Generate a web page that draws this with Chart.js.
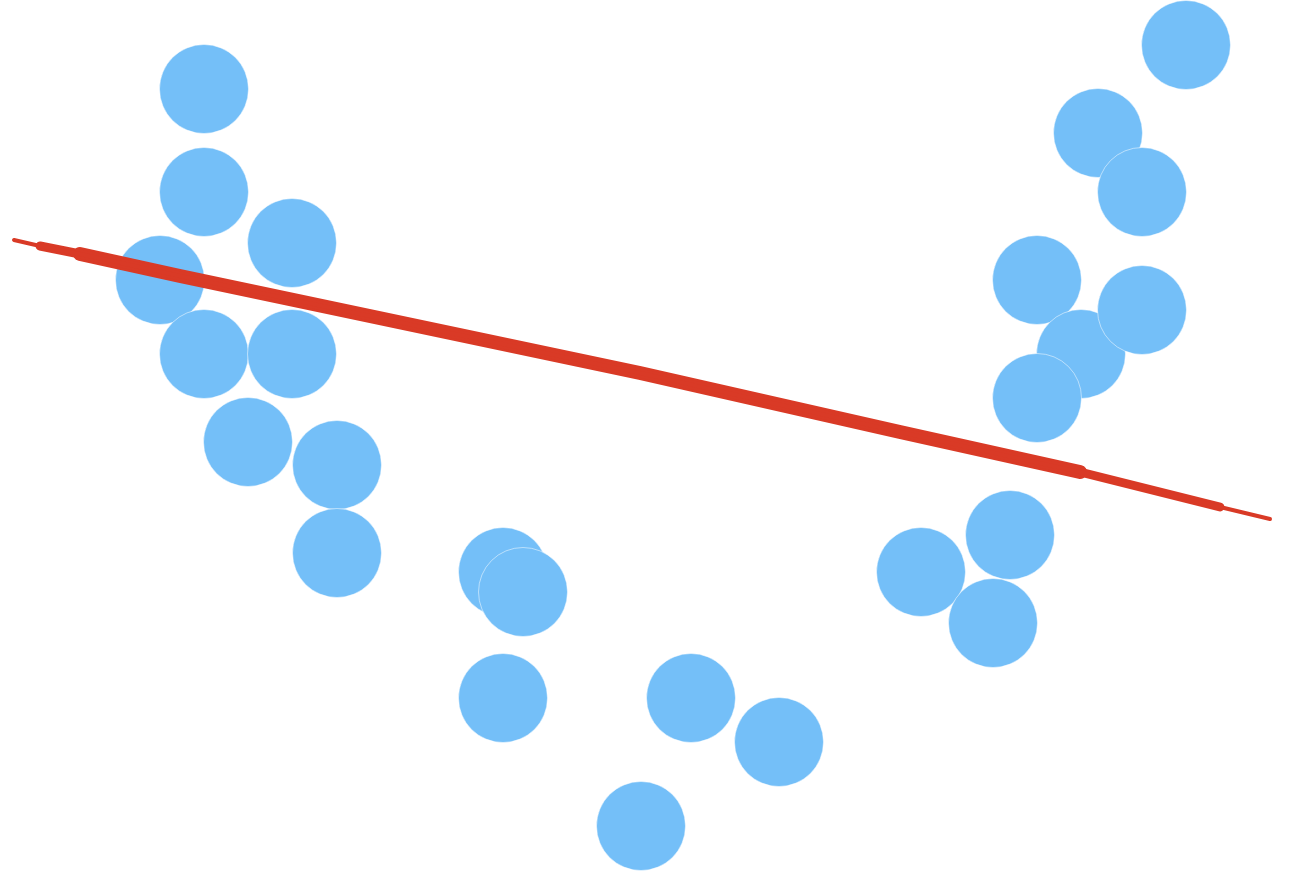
<!DOCTYPE html>
<html>
<head>
<meta charset="utf-8">
<script src="https://cdn.jsdelivr.net/npm/chart.js@4/dist/chart.umd.min.js"></script>
<style>
  html, body { margin: 0; padding: 0; background: #ffffff; }
  #wrap { width: 1294px; height: 872px; }
</style>
</head>
<body>
<div id="wrap"><canvas id="c" width="1294" height="872"></canvas></div>
<script>
const pointX = [2.04, 2.04, 2.92, 1.60, 2.04, 2.92, 2.48, 3.37, 3.37, 5.03, 5.23, 5.03, 6.91, 7.79, 6.41,
                9.21, 10.10, 9.93, 10.37, 10.81, 11.42, 10.37, 10.98, 11.42, 11.86];
const pointY = [7.83, 6.80, 6.29, 5.92, 5.18, 5.18, 4.30, 4.07, 3.19, 3.00, 2.80, 1.74, 1.74, 1.30, 0.46,
                3.00, 3.37, 2.49, 5.92, 5.18, 5.62, 4.74, 7.39, 6.80, 8.27];

// Trend line (read along the stroke)
const trendX = [0.14, 0.40, 0.80, 1.80, 6.40, 9.00, 10.80, 11.60, 12.20, 12.70];
const trendY = [6.32, 6.26, 6.18, 5.96, 4.99, 4.40, 4.00, 3.80, 3.65, 3.53];

// Axis ranges
const xRange = [0, 12.94];
const yRange = [0, 8.72];

// Brush-stroke taper: layered strokes (style only: width, first index, last index)
const strokeLayers = [
  { width: 4, from: 0, to: 9 },
  { width: 9, from: 1, to: 8 },
  { width: 14, from: 2, to: 6 }
];

const scatterData = pointX.map((x, i) => ({ x: x, y: pointY[i] }));
const trendData = trendX.map((x, i) => ({ x: x, y: trendY[i] }));

const lineSets = strokeLayers.map(l => ({
  type: 'line',
  data: trendData.slice(l.from, l.to + 1),
  order: 0,
  borderColor: '#D93A26',
  borderWidth: l.width,
  borderCapStyle: 'round',
  borderJoinStyle: 'round',
  pointRadius: 0,
  pointHoverRadius: 0,
  tension: 0,
  fill: false,
  clip: false
}));

new Chart(document.getElementById('c'), {
  type: 'scatter',
  data: {
    datasets: [
      ...lineSets,
      {
        data: scatterData,
        order: 1,
        backgroundColor: '#74BFF8',
        borderColor: 'rgba(255,255,255,0.5)',
        borderWidth: 1,
        pointRadius: 44.5,
        pointHoverRadius: 44.5,
        clip: false
      }
    ]
  },
  options: {
    responsive: false,
    animation: false,
    layout: { padding: 0, autoPadding: false },
    plugins: { legend: { display: false }, tooltip: { enabled: false } },
    scales: {
      x: { type: 'linear', min: xRange[0], max: xRange[1], display: false },
      y: { type: 'linear', min: yRange[0], max: yRange[1], display: false }
    }
  }
});
</script>
</body>
</html>
